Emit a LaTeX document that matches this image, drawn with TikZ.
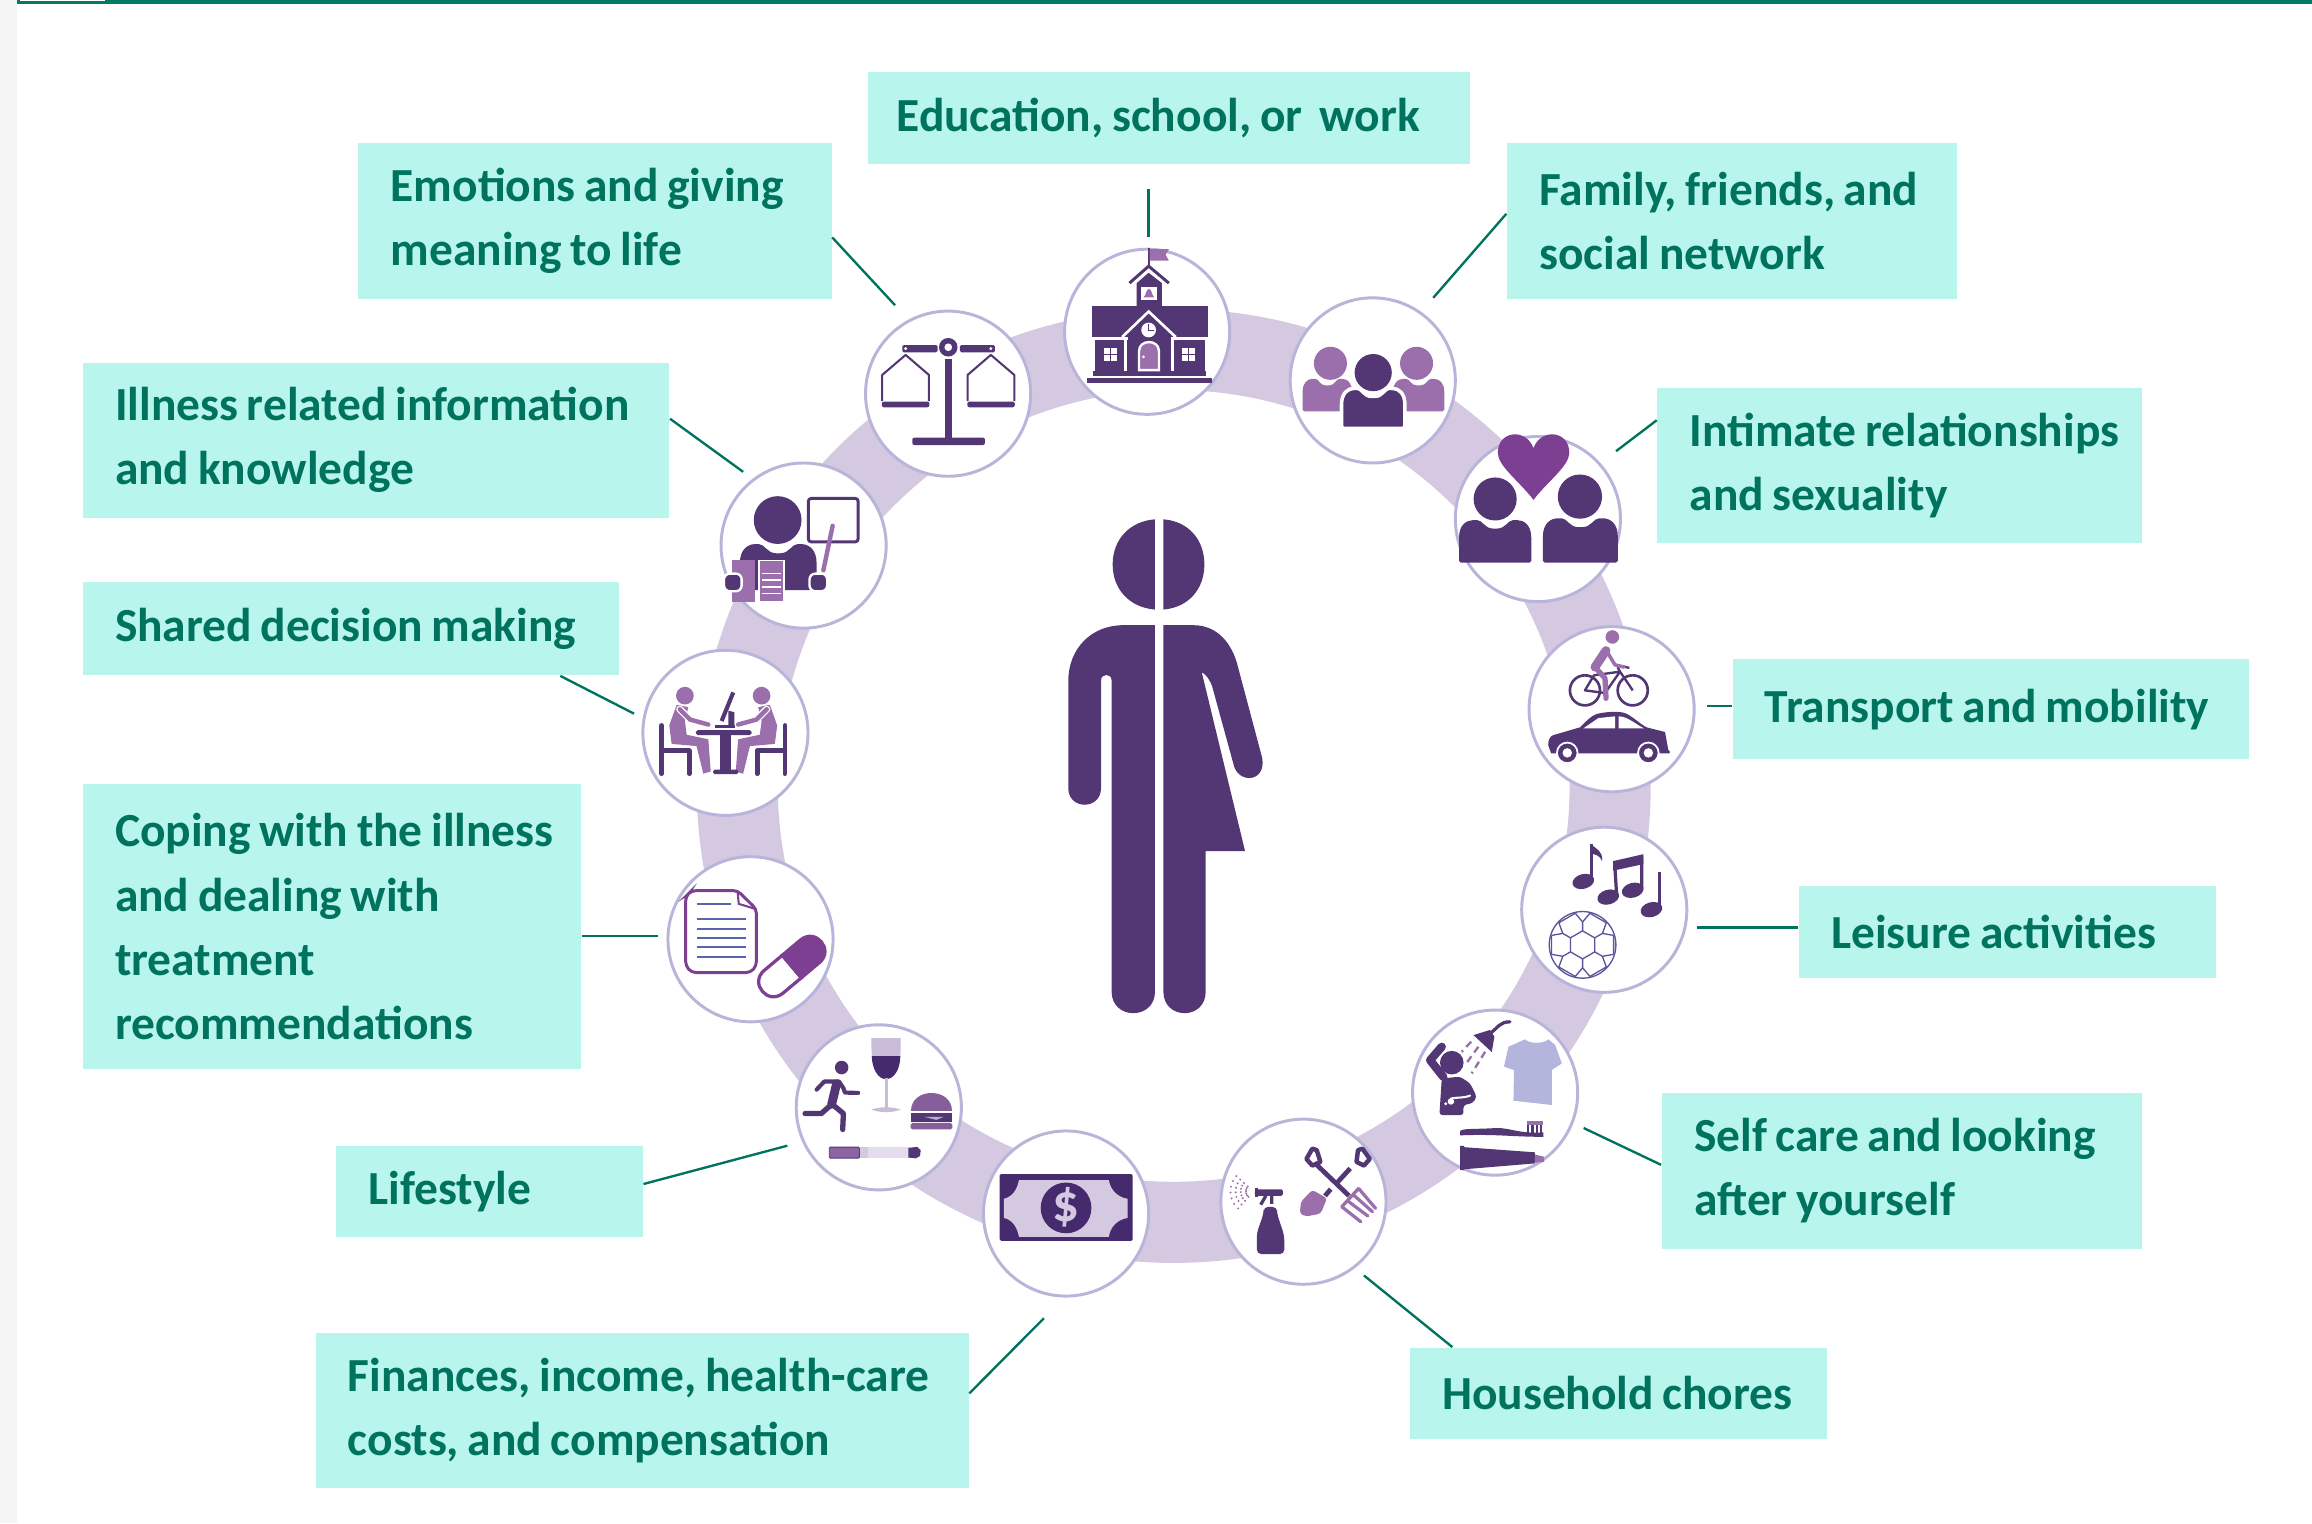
\documentclass[tikz,border=0pt]{standalone}
\usepackage{fontspec}
\setmainfont{Carlito}[WordSpace=0.8]
\definecolor{dk}{HTML}{533674}
\definecolor{md}{HTML}{9A6FAC}
\definecolor{br}{HTML}{7D3F92}
\definecolor{bandc}{HTML}{D5C9E2}
\definecolor{ringc}{HTML}{B9B4D9}
\definecolor{lblfill}{HTML}{B8F5EC}
\definecolor{teal1}{HTML}{00735F}
\definecolor{topbar}{HTML}{007A65}
\definecolor{billc}{HTML}{452A6E}
\definecolor{linec}{HTML}{5B63AC}
\definecolor{shirtc}{HTML}{B3B5DC}
\definecolor{pale}{HTML}{C9BCD9}
\newcommand\LB{\\\hspace*{9pt}}
\newcommand\lbl[6]{\node[lblbox,minimum width={(#4-#2)*0.5pt},minimum height={(#5-#3)*0.5pt},text width={(#4-#2)*0.5pt-4pt}] (#1) at ({(#2+#4)/2},{(#3+#5)/2}) {\hspace*{9pt}#6};}
\newcommand\disc[3]{\node[discnode] (#1) at (#2,#3) {};}
% bust: cx, top y, half width, bottom y, path options
\newcommand\bust[5]{\path[#5,rounded corners=0.6pt] ({#1-#3},#4) -- ({#1-#3},{#2+.45*(#4-#2)}) .. controls ({#1-#3},{#2+.12*(#4-#2)}) and ({#1-.8*#3},#2) .. ({#1-.55*#3},#2) .. controls ({#1-.35*#3},#2) and ({#1-.3*#3},{#2+.2*(#4-#2)}) .. (#1,{#2+.2*(#4-#2)}) .. controls ({#1+.3*#3},{#2+.2*(#4-#2)}) and ({#1+.35*#3},#2) .. ({#1+.55*#3},#2) .. controls ({#1+.8*#3},#2) and ({#1+#3},{#2+.12*(#4-#2)}) .. ({#1+#3},{#2+.45*(#4-#2)}) -- ({#1+#3},#4) -- cycle;}
\newcommand\sharedhalf{%
  \fill[md] (458.9,478) -- (453.9,492) -- (455.5,504.5) -- (472.4,506) -- (477,524.7) -- (482,523.2) -- (480.4,501.4) -- (465.7,498.3) -- (464.5,489) -- (466.8,479.6) -- cycle;
  \fill[md] (464.5,471.8) circle (6);
  \draw[white,line width=2.4pt,line cap=round] (461,481) -- (468,488) -- (480.4,491.4);
  \draw[md,line width=1.5pt,line cap=round] (461,481) -- (468,488) -- (480.4,491.4);
  \draw[dk,line width=1.6pt,line cap=round,line join=round] (448.7,492) -- (448.7,524.7) (448.7,509.2) -- (467.5,509.2) -- (467.5,524.7);
}
\tikzset{
  lblbox/.style={rectangle,fill=lblfill,text=teal1,align=flush left,inner xsep=2pt,inner ysep=0pt,font=\fontsize{16.1}{21.75}\selectfont\bfseries},
  discnode/.style={circle,draw=ringc,fill=white,line width=1pt,minimum size=56pt,inner sep=0pt},
  conn/.style={draw=teal1,line width=0.8pt},
  thinw/.style={draw=white,line width=0.9pt}
}
\begin{document}
\begin{tikzpicture}[x=0.5pt,y=-0.5pt]
\useasboundingbox (0,0) rectangle (1568,1032.9);
\fill[white] (0,0) rectangle (1568,1032.9);
\fill[black!4] (0,0) rectangle (11.5,1032.9);
\fill[topbar] (11.5,0) rectangle (1568,2.7);
\fill[white] (13.5,0) rectangle (71,0.8);
% ring
\draw[bandc,line width=27.5pt] (796,533) circle (296);
% circles
\disc{cSchool}{778}{225}
\disc{cFamily}{931}{258}
\disc{cIntimate}{1043}{352}
\disc{cTransport}{1093}{481}
\disc{cLeisure}{1088}{617}
\disc{cSelf}{1014}{741}
\disc{cChores}{884}{815}
\disc{cMoney}{723}{823}
\disc{cLife}{596}{751}
\disc{cCoping}{509}{637}
\disc{cShared}{492}{497}
\disc{cIllness}{545}{370}
\disc{cEmotions}{643}{267}
% central figure
\fill[dk] (783.3,352.2) .. controls (766,353.5) and (754.6,366) .. (754.6,382.8) .. controls (754.6,399.6) and (766,412) .. (783.3,413.4) -- cycle;
\fill[dk] (789,352.2) .. controls (806,353.5) and (816.8,366) .. (816.8,382.8) .. controls (816.8,399.6) and (806,412) .. (789,413.4) -- cycle;
\fill[dk] (783.3,424) -- (761.8,424) .. controls (740,424) and (724.5,440) .. (724.5,462) -- (724.5,534.5) .. controls (724.5,549.5) and (746.7,549.5) .. (746.7,534.5) -- (746.7,461.5) .. controls (746.7,456.5) and (753.9,456.5) .. (753.9,461.5) -- (753.9,672.5) .. controls (753.9,692) and (783.3,692) .. (783.3,672.5) -- cycle;
\fill[dk] (789,424) -- (809.3,424) .. controls (824,424) and (834,434) .. (838.7,449) -- (856,514) .. controls (859,531) and (839,532) .. (836.4,517.7) -- (822,465.2) .. controls (820.5,461) and (818,457.5) .. (815,455.9) -- (844.4,577.3) -- (817.7,577.3) -- (817.7,672.5) .. controls (817.7,692) and (789,692) .. (789,672.5) -- cycle;
% school
\draw[dk,line width=0.7pt] (779,168.4) -- (779,181);
\fill[md] (779.6,169) -- (792.7,169) -- (790.5,172.8) -- (792.7,176.8) -- (779.6,176.8) -- cycle;
\draw[dk,line width=1pt] (766,192) -- (779,180.5) -- (792.7,192);
\fill[dk] (770.9,192) -- (779,185) -- (788,192) -- (788,208) -- (770.9,208) -- cycle;
\fill[white] (773.6,194.8) rectangle (784.8,203.4);
\fill[md] (779.2,196) .. controls (777,196) and (777.6,200) .. (775.6,201.6) -- (782.8,201.6) .. controls (780.8,200) and (781.4,196) .. (779.2,196) -- cycle;
\fill[dk] (740.3,207.5) rectangle (819,228.3);
\fill[dk] (742.4,230.6) rectangle (816.9,251.4);
\fill[dk] (741,251.4) rectangle (818,254.8);
\fill[dk] (737.2,256.6) rectangle (822,259.5);
\draw[white,line width=0.9pt,fill=dk] (761,228.6) -- (779,211.3) -- (797.4,228.6);
\fill[dk] (765,228) -- (779,214.5) -- (794,228) -- (794,240) -- (765,240) -- cycle;
\draw[white,line width=0.9pt] (740,229.4) -- (763.5,229.4) -- (763.5,251.4) (819,229.4) -- (795,229.4) -- (795,251.4);
\fill[white] (779,223.8) circle (5);
\draw[dk,line width=0.4pt] (779,219.5) -- (779,224) -- (782.5,224);
\fill[md,draw=white,line width=0.8pt] (772.5,251) -- (772.5,238) .. controls (772.5,230) and (786,230) .. (786,238) -- (786,251) -- cycle;
\fill[white] (775.5,242) circle (1);
\foreach \wx in {748.5,801.7}{
  \fill[white] (\wx,236) rectangle ++(9,9);
  \draw[dk,line width=0.4pt] (\wx+4.5,236) -- ++(0,9) (\wx,240.5) -- ++(9,0);
}
% family
\fill[md] (902.3,246.4) circle (11.2);
\fill[md] (960.7,246.4) circle (11.2);
\bust{900.2}{257}{16.8}{279}{fill=md}
\bust{962.1}{257}{17.4}{279}{fill=md}
\bust{931.3}{263.4}{21.5}{290.5}{fill=dk,draw=white,line width=1.2pt}
\fill[dk] (931.3,252.7) circle (12.6);
% intimate
\bust{1014}{352.7}{24.5}{381.6}{fill=dk}
\bust{1071.8}{351.5}{25.4}{381.6}{fill=dk}
\fill[dk] (1014,338.4) circle (14.6);
\fill[dk] (1071.5,336.8) circle (15);
\fill[br] (1040,339) .. controls (1030,326) and (1015.8,316) .. (1015.8,307) .. controls (1015.8,292) and (1035,290) .. (1040,304) .. controls (1045,290) and (1064.3,292) .. (1064.3,307) .. controls (1064.3,316) and (1050,326) .. (1040,339) -- cycle;
% transport
\draw[dk,line width=0.9pt] (1074.9,468.2) circle (10.2) (1107.3,468.2) circle (10.2);
\draw[dk,line width=0.8pt,line join=round] (1074.9,468.2) -- (1081,458) -- (1098.7,455.5) -- (1088.5,470) -- cycle (1098.7,455.5) -- (1107.3,468.2) (1098.7,455.5) -- (1097,452.5) (1101,452) -- (1105,453);
\fill[md] (1093.5,432) circle (4.6);
\draw[md,line width=3pt,line cap=round] (1089.2,441.2) -- (1081.7,452.4);
\draw[md,line width=1.2pt,line cap=round,line join=round] (1090.7,443.4) -- (1095.3,450.9) -- (1101.4,452.4);
\draw[md,line width=1.8pt,line cap=round,line join=round] (1081.7,452.4) -- (1088.5,460) -- (1089.2,473.6);
\fill[dk] (1050,505.4) .. controls (1050,499) and (1053,498.5) .. (1055.7,497.9) -- (1071.5,493.3) .. controls (1076,489) and (1079,485.5) .. (1082.8,484.2) .. controls (1090,482.5) and (1097,482.5) .. (1100.9,483.3) .. controls (1106,484.5) and (1112,491) .. (1116.8,493.3) -- (1129.2,496.4) -- (1131.4,508.5) -- (1132.6,510) -- (1132,511) -- (1052,511) -- cycle;
\fill[white] (1073.8,494) -- (1084,487) -- (1095.3,485.8) -- (1095.3,494) -- cycle;
\fill[white] (1097.8,485.8) .. controls (1104,486) and (1109,491) .. (1115,494) -- (1097.8,494) -- cycle;
\foreach \wx in {1062.9,1117.9}{
  \fill[dk,draw=white,line width=0.6pt] (\wx,510.6) circle (7);
  \fill[white] (\wx,510.6) circle (3.2);
}
% leisure
\fill[dk,rotate around={15:(1073.8,597.8)}] (1073.8,597.8) ellipse (7.5 and 5);
\draw[dk,line width=1.1pt] (1079.3,597) -- (1079.3,572.7);
\fill[dk] (1079,572.7) .. controls (1083,576) and (1087,577) .. (1086.5,584) .. controls (1085,580) and (1082,579.5) .. (1079,579) -- cycle;
\fill[dk,rotate around={15:(1090.7,608.4)}] (1090.7,608.4) ellipse (7.5 and 5);
\fill[dk,rotate around={15:(1107.3,603.8)}] (1107.3,603.8) ellipse (7.5 and 5);
\draw[dk,line width=1.1pt] (1096.4,607) -- (1095,584.6) (1113.5,603) -- (1113.5,581);
\fill[dk] (1094,584) -- (1114.6,579.3) -- (1114.6,586) -- (1094,590.5) -- cycle;
\fill[dk,rotate around={15:(1120,616.9)}] (1120,616.9) ellipse (7.5 and 5);
\draw[dk,line width=1.1pt] (1125.6,616) -- (1125.6,591.7);
\begin{scope}[shift={(1073.3,640.8)}]
  \draw[linec!70!dk,line width=0.45pt] (0,0) circle (22.6);
  \foreach \a in {0,60,...,300}{
    \draw[linec!70!dk,line width=0.45pt] (\a+30:9.5) -- (\a+90:9.5) (\a+30:9.5) -- (\a+30:15.5) (\a+30:15.5) -- (\a+17:22) (\a+30:15.5) -- (\a+43:22) (\a+43:22) -- (\a+77:22) ;
  }
\end{scope}
% self care
\fill[dk] (984.6,720.7) circle (8);
\draw[dk,line width=2.8pt,line cap=round,line join=round] (977.8,709.9) -- (969.9,719) -- (978.9,730.4);
\fill[dk,rounded corners=1pt] (976.2,756.2) -- (977.8,731.4) -- (990.2,730.2) -- (997,734.7) -- (1001.5,743.8) -- (999,748) -- (992.5,749.5) -- (992.5,756.2) -- cycle;
\draw[white,line width=0.7pt,line cap=round] (997,743) .. controls (992,745) and (988,744) .. (984,745);
\fill[white] (984,747) circle (2.2) (980.5,748.5) circle (1.1);
\fill[dk] (999.3,702) -- (1010.5,698.5) -- (1013.5,703) -- (1011.7,713.5) -- cycle;
\draw[dk,line width=1.1pt,line cap=round] (1010.6,700.8) .. controls (1016,697) and (1017,693) .. (1024,693);
\draw[md,line width=0.8pt,dash pattern=on 2.4pt off 1.6pt] (997.7,706.5) -- (991.3,713.3) (1002.6,709.9) -- (993.6,722.3) (1007.2,713.3) -- (998.1,728);
\fill[shirtc] (1034.3,704.9) .. controls (1037,708) and (1047,708) .. (1050.1,704.9) -- (1054.7,708.7) -- (1059.2,721.2) -- (1052.4,725.7) -- (1052.4,749.4) -- (1026.4,746.5) -- (1026.8,725.7) -- (1020,723.4) -- (1023,709.9) -- cycle;
\fill[dk] (990.2,767.5) .. controls (990.2,765) and (1000,766) .. (1015,765) .. controls (1025,765) and (1030,769) .. (1046.7,768) -- (1046.7,771) .. controls (1025,771) and (1015,769) .. (990.2,770) -- cycle;
\fill[md] (1035.5,760.4) rectangle (1046.7,763);
\foreach \bx in {1035.5,1038.5,1041.5,1044.5}{\fill[dk] (\bx,763) rectangle ++(1.6,6);}
\fill[dk] (990.2,777.2) -- (992.9,777.2) -- (992.9,778) -- (1041,781.5) -- (1041,789) -- (992.9,793) -- (992.9,793.5) -- (990.2,793.5) -- cycle;
\fill[md] (1041,783) -- (1047.2,784.5) -- (1047.2,788) -- (1041,788.5) -- cycle;
% chores
\fill[dk,rounded corners=1.5pt] (852.4,850.5) -- (852.4,836) -- (857,823) -- (857,818.5) -- (866,818.5) -- (866,823) -- (871,838) -- (871,850.5) -- cycle;
\fill[dk,rounded corners=0.5pt] (851,806.6) rectangle (870,811);
\draw[dk,line width=1.1pt] (858.5,811) -- (855,817) (862.5,811) -- (862.5,816.5);
\fill[dk] (851,806) rectangle (853,811.5);
\foreach \r in {5,8.5,12,15.5}{
  \foreach \a in {132,147,...,228}{
    \fill[md] (850,808) ++(\a:\r) circle (0.75);
  }
}
\draw[dk,line width=1.6pt] (915.7,792.4) -- (906,803) (902.5,806.5) -- (898.6,811);
\draw[dk,line width=1.5pt,line join=round] (890,779) -- (886,786) -- (890,790.5) -- (895.5,788) -- (893,780) -- cycle;
\draw[dk,line width=1.5pt,line join=round] (924,779) -- (929,786) -- (925,790.5) -- (920,788) -- (921,780) -- cycle;
\draw[dk,line width=1.6pt] (893,790) -- (914.9,811);
\fill[md,rounded corners=1pt] (890,807) -- (900,812.7) -- (895.7,823) -- (885.8,825) -- (881.5,823) -- (882.3,815) -- cycle;
\draw[md,line width=1.1pt,line cap=round] (910,818.4) -- (921.4,806) (910,818.4) -- (922.9,828.6) (913.8,814.3) -- (927.7,824.7) (917.6,810.1) -- (930.8,821.8) (921.4,806) -- (932.9,819.5);
% money
\fill[billc,rounded corners=0.5pt] (678,796.2) rectangle (768.2,841.5);
\fill[bandc] (691,800.3) -- (752,800.3) .. controls (753,807) and (758,812) .. (764.7,813) -- (764.7,826) .. controls (758,827) and (753,832) .. (752,838.8) -- (691,838.8) .. controls (690,832) and (686,827) .. (680.8,826) -- (680.8,813) .. controls (686,812) and (690,807) .. (691,800.3) -- cycle;
\fill[billc] (723,819.2) circle (17.2);
\node[text=bandc,font=\fontsize{18}{18}\selectfont\bfseries,inner sep=0pt] (dollar) at (723,819) {\$};
% lifestyle
\fill[dk] (570.8,724) circle (4.6);
\draw[dk,line width=3pt,line cap=round] (567.4,735) -- (564,749);
\draw[dk,line width=1.4pt,line cap=round,line join=round] (553.8,739) -- (559,733.5) -- (569,733.5) -- (572,738) -- (573,741) -- (582,741.2);
\draw[dk,line width=1.8pt,line cap=round,line join=round] (564,749) -- (557,755.2) -- (546,755.2);
\draw[dk,line width=1.8pt,line cap=round,line join=round] (564.5,749) -- (572,755.2) -- (571.5,766);
\fill[pale] (591,704) -- (610.8,704) .. controls (611.5,722) and (608,732) .. (600.9,732) .. controls (594,732) and (590.5,722) .. (591,704) -- cycle;
\fill[billc] (591.2,716.3) -- (610.6,716.3) .. controls (610.5,725) and (606.5,731.8) .. (600.9,731.8) .. controls (595.5,731.8) and (591.5,725) .. (591.2,716.3) -- cycle;
\fill[pale] (600,731) rectangle (602,752);
\fill[pale] (591,752.5) .. controls (596,750.5) and (606,750.5) .. (610.8,752.5) .. controls (606,754.8) and (596,754.8) .. (591,752.5) -- cycle;
\fill[md!70!dk] (617.6,753.6) .. controls (617.6,737) and (645.9,737) .. (645.9,753.6) -- cycle;
\fill[dk] (617.6,754.5) rectangle (645.9,761);
\fill[white,opacity=.6] (627,757.5) -- (640,757.5) -- (635,759.5) -- cycle;
\fill[md!70!dk,rounded corners=0.6pt] (617.6,761.6) rectangle (645.9,766);
\fill[md!80!dk,draw=dk,line width=0.3pt,rounded corners=0.4pt] (562.4,778) rectangle (583,785.4);
\fill[bandc] (583,778) rectangle (589,785.4);
\fill[pale!50!white] (589,778) rectangle (617,785.4);
\fill[dk] (616,778.5) -- (622,777.8) -- (624.4,780) -- (624,784) -- (621,785.6) -- (616,785) -- cycle;
% coping
\draw[br,line width=1pt,rounded corners=1.5pt] (500.2,604) -- (469,604) -- (465,608) -- (465,655) -- (469,659.6) -- (509,659.6) -- (513,655) -- (513,616.6) -- cycle;
\draw[br,line width=0.7pt] (500.2,604) -- (501,613) -- (513,616.6);
\draw[linec,line width=0.7pt] (472.4,612.9) -- (495.5,612.9);
\foreach \ly in {623.5,630,636,642.4,649}{\draw[linec,line width=0.7pt] (472.4,\ly) -- (505.7,\ly);}
\begin{scope}[shift={(537,655.5)},rotate=40]
  \path[fill=white,draw=br,line width=1.1pt] (0,-10) -- (-16,-10) .. controls (-29.5,-10) and (-29.5,10) .. (-16,10) -- (0,10) -- cycle;
  \path[fill=br,draw=br,line width=1.1pt] (0,-10) -- (16,-10) .. controls (29.5,-10) and (29.5,10) .. (16,10) -- (0,10) -- cycle;
\end{scope}
% shared
\sharedhalf
\begin{scope}[shift={(981,0)},xscale=-1]\sharedhalf\end{scope}
\fill[dk,rounded corners=0.6pt] (472,495.2) rectangle (509.7,498.6);
\fill[dk] (488.3,498) rectangle (495.5,524);
\fill[dk,rounded corners=0.5pt] (483.7,522) rectangle (500.7,525);
\draw[dk,line width=1.4pt] (497.3,469.6) -- (489.4,489);
\fill[dk] (494,482) -- (498,483) -- (498,492) -- (494,492) -- cycle;
\fill[dk] (484.9,492) rectangle (498.4,493.4);
% illness
\draw[dk,line width=1pt,rounded corners=1pt] (548.2,338) rectangle (582,367.5);
\draw[md,line width=1.5pt,line cap=round] (564.7,356.6) -- (558.4,386.8);
\fill[dk] (527.4,352.7) circle (16.2);
\bust{527.8}{369}{26}{400.2}{fill=dk}
\fill[md] (496.2,380) -- (512,380) -- (512,408) -- (496.2,408) -- cycle;
\fill[md,draw=white,line width=0.5pt] (514.7,380) -- (531.7,380) -- (531.7,408) -- (514.7,408) -- cycle;
\foreach \ly in {389,393.5,398,402.5}{\draw[white,line width=0.6pt] (517,\ly) -- (530,\ly);}
\fill[dk,draw=white,line width=0.8pt,rounded corners=2pt] (491,389) rectangle (503,401);
\fill[dk,draw=white,line width=0.8pt,rounded corners=2pt] (549,389) rectangle (561,401);
% emotions
\draw[dk,line width=0.7pt,line join=round] (598.3,272) -- (598.3,254.3) -- (614.2,240.7) -- (630,254.3) -- (630,272);
\draw[dk,line width=0.7pt,line join=round] (656.2,272) -- (656.2,254.3) -- (672,240.7) -- (687.9,254.3) -- (687.9,272);
\fill[dk,rounded corners=0.7pt] (598,272.4) rectangle (630.3,276.2);
\fill[dk,rounded corners=0.7pt] (656,272.4) rectangle (688.2,276.2);
\fill[dk,rounded corners=0.5pt] (611.9,234) rectangle (635.9,238.9);
\fill[dk,rounded corners=0.5pt] (651,234) rectangle (674.8,238.9);
\fill[white] (614.2,236.4) circle (1.1) (672,236.4) circle (1.1);
\fill[dk] (643.1,235.5) circle (6.3);
\fill[white] (643.1,235.5) circle (2.6);
\fill[dk] (640.9,243.7) rectangle (645.8,297);
\fill[dk,rounded corners=0.7pt] (618.7,296.8) rectangle (668,301.8);
% labels
\lbl{lEdu}{589}{49}{997}{111}{\hspace*{-1.5pt}Education, school, or\ \ work}
\lbl{lEmo}{243}{97}{564}{203}{Emotions and giving\LB meaning to life}
\lbl{lFam}{1022}{97}{1327}{203}{Family, friends, and\LB social network}
\lbl{lInt}{1124}{263}{1453}{368}{Intimate relationships\LB and sexuality}
\lbl{lTra}{1175}{447}{1525}{515}{Transport and mobility}
\lbl{lLei}{1220}{601}{1503}{663}{Leisure activities}
\lbl{lSel}{1127}{741}{1453}{847}{Self care and looking\LB after yourself}
\lbl{lHou}{956}{914}{1239}{976}{Household chores}
\lbl{lFin}{214}{904}{657}{1009}{Finances, income, health-care\LB costs, and compensation}
\lbl{lLif}{228}{777}{436}{839}{Lifestyle}
\lbl{lCop}{56}{532}{394}{725}{Coping with the illness\LB and dealing with\LB treatment\LB recommendations}
\lbl{lSha}{56}{395}{420}{458}{Shared decision making}
\lbl{lIll}{56}{246}{454}{351}{Illness related information\LB and knowledge}
% connectors
\coordinate (eEdu) at (779,161);
\coordinate (sEdu) at (779,128);
\draw[conn] (sEdu) -- (eEdu);
\coordinate (eEmo) at (607,207);
\draw[conn] (lEmo.east |- 0,161) -- (eEmo);
\coordinate (eFam) at (972,202);
\draw[conn] (lFam.west |- 0,145) -- (eFam);
\coordinate (eInt) at (1096,306);
\draw[conn] (lInt.west |- 0,285) -- (eInt);
\coordinate (eTra) at (1158,479);
\draw[conn] (lTra.west |- eTra) -- (eTra);
\coordinate (eLei) at (1151,629);
\draw[conn] (lLei.west |- eLei) -- (eLei);
\coordinate (eSel) at (1074,765);
\draw[conn] (lSel.west |- 0,790) -- (eSel);
\coordinate (eHou) at (925,865);
\draw[conn] (lHou.north -| 985,0) -- (eHou);
\coordinate (eFin) at (708,894);
\draw[conn] (lFin.east |- 0,945) -- (eFin);
\coordinate (eLif) at (534,777);
\draw[conn] (lLif.east |- 0,803) -- (eLif);
\coordinate (eCop) at (446,635);
\draw[conn] (lCop.east |- eCop) -- (eCop);
\coordinate (eSha) at (430,484);
\draw[conn] (lSha.south -| 380,0) -- (eSha);
\coordinate (eIll) at (504,320);
\draw[conn] (lIll.east |- 0,284) -- (eIll);
\end{tikzpicture}
\end{document}
